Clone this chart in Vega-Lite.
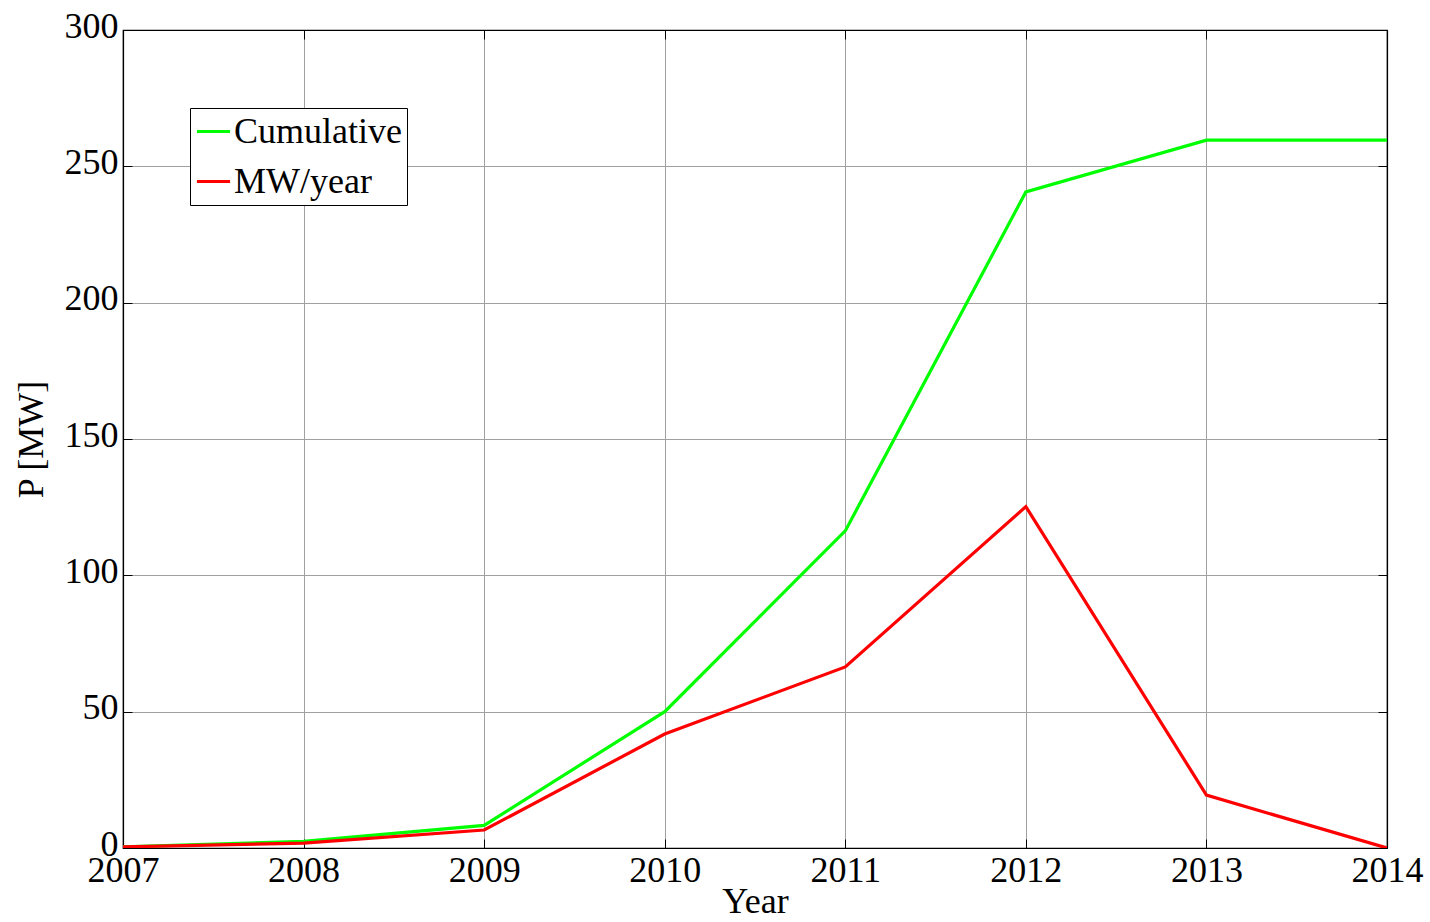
{
  "$schema": "https://vega.github.io/schema/vega-lite/v6.json",
  "width": 1264,
  "height": 818,
  "autosize": {"type": "none"},
  "padding": {"left": 123, "top": 30, "right": 43, "bottom": 74},
  "background": "white",
  "config": {
    "font": "Liberation Serif",
    "view": {"stroke": "black", "strokeWidth": 1.2},
    "axis": {
      "labelFont": "Liberation Serif",
      "titleFont": "Liberation Serif",
      "labelFontSize": 36,
      "titleFontSize": 36,
      "labelColor": "black",
      "titleColor": "black",
      "titleFontWeight": "normal",
      "domainColor": "black",
      "domainWidth": 1.2,
      "tickColor": "black",
      "tickSize": -9,
      "gridColor": "#a0a0a0",
      "gridWidth": 1,
      "labelOverlap": false,
      "labelFlush": false
    }
  },
  "data": {
    "values": [
      {"year": 2007, "series": "Cumulative", "P": 0.4},
      {"year": 2008, "series": "Cumulative", "P": 2.4},
      {"year": 2009, "series": "Cumulative", "P": 8.3},
      {"year": 2010, "series": "Cumulative", "P": 50.0},
      {"year": 2011, "series": "Cumulative", "P": 116.3},
      {"year": 2012, "series": "Cumulative", "P": 240.6},
      {"year": 2013, "series": "Cumulative", "P": 259.6},
      {"year": 2014, "series": "Cumulative", "P": 259.6},
      {"year": 2007, "series": "MW/year", "P": 0.4},
      {"year": 2008, "series": "MW/year", "P": 1.8},
      {"year": 2009, "series": "MW/year", "P": 6.6},
      {"year": 2010, "series": "MW/year", "P": 41.8},
      {"year": 2011, "series": "MW/year", "P": 66.4},
      {"year": 2012, "series": "MW/year", "P": 125.2},
      {"year": 2013, "series": "MW/year", "P": 19.4},
      {"year": 2014, "series": "MW/year", "P": 0.0}
    ]
  },
  "layer": [
    {
      "mark": {"type": "line", "strokeWidth": 3.2, "clip": true},
      "encoding": {
        "x": {
          "field": "year",
          "type": "quantitative",
          "scale": {"domain": [2007, 2014], "nice": false, "zero": false},
          "axis": {
            "values": [2007, 2008, 2009, 2010, 2011, 2012, 2013, 2014],
            "format": "d",
            "title": "Year",
            "labelPadding": 14,
            "titlePadding": -4
          }
        },
        "y": {
          "field": "P",
          "type": "quantitative",
          "scale": {"domain": [0, 300], "nice": false},
          "axis": {
            "values": [0, 50, 100, 150, 200, 250, 300],
            "title": "P [MW]",
            "labelPadding": 14,
            "labelOffset": -4,
            "titlePadding": 14
          }
        },
        "color": {
          "field": "series",
          "type": "nominal",
          "scale": {"domain": ["Cumulative", "MW/year"], "range": ["#00ff00", "#ff0000"]},
          "legend": {
            "title": null,
            "orient": "none",
            "legendX": 67,
            "legendY": 78,
            "direction": "vertical",
            "strokeColor": "black",
            "fillColor": "white",
            "padding": 5,
            "labelFont": "Liberation Serif",
            "labelFontSize": 36,
            "labelColor": "black",
            "labelLimit": 0,
            "labelOffset": 2,
            "symbolType": "stroke",
            "symbolStrokeWidth": 3,
            "symbolSize": 1100,
            "rowPadding": 13
          }
        }
      }
    },
    {
      "mark": {"type": "line", "opacity": 0},
      "encoding": {
        "x": {
          "field": "year",
          "type": "quantitative",
          "scale": {"domain": [2007, 2014], "nice": false, "zero": false},
          "axis": {
            "orient": "top",
            "values": [2007, 2008, 2009, 2010, 2011, 2012, 2013, 2014],
            "labels": false,
            "grid": false,
            "title": null
          }
        },
        "y": {
          "field": "P",
          "type": "quantitative",
          "scale": {"domain": [0, 300], "nice": false},
          "axis": {
            "orient": "right",
            "values": [0, 50, 100, 150, 200, 250, 300],
            "labels": false,
            "grid": false,
            "title": null
          }
        },
        "detail": {"field": "series"}
      }
    }
  ],
  "resolve": {"scale": {"x": "independent", "y": "independent"}}
}
